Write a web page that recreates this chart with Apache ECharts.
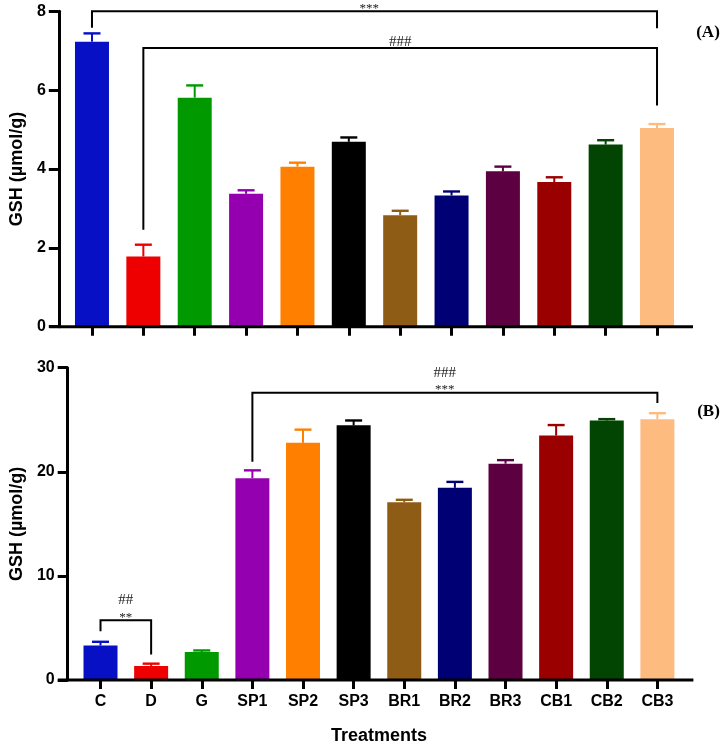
<!DOCTYPE html>
<html>
<head>
<meta charset="utf-8">
<script src="https://cdn.jsdelivr.net/npm/echarts@6/dist/echarts.min.js"></script>
<style>
html,body{margin:0;padding:0;background:#fff;}
#chart{width:724px;height:746px;}
</style>
</head>
<body>
<div id="chart"></div>
<script>
const categories = ['C','D','G','SP1','SP2','SP3','BR1','BR2','BR3','CB1','CB2','CB3'];
const barColors = ['#0710c4','#ee0000','#009a00','#9400b0','#ff8000','#000000','#8e5c14','#000075','#5c0042','#9a0000','#024402','#fdbb7f'];

// Panel A: GSH (µmol/g), mean and SEM
const gshA = [7.23, 1.78, 5.81, 3.37, 4.06, 4.69, 2.83, 3.33, 3.94, 3.67, 4.62, 5.04];
const semA = [0.21, 0.30, 0.31, 0.09, 0.10, 0.11, 0.11, 0.10, 0.12, 0.12, 0.11, 0.10];
const yTicksA = [0, 2, 4, 6, 8];

// Panel B: GSH (µmol/g), mean and SEM
const gshB = [3.31, 1.35, 2.68, 19.38, 22.78, 24.46, 17.07, 18.46, 20.78, 23.48, 24.93, 25.06];
const semB = [0.36, 0.22, 0.16, 0.76, 1.27, 0.47, 0.24, 0.57, 0.34, 1.01, 0.13, 0.57];
const yTicksB = [0, 10, 20, 30];

// Significance brackets: [fromIndex, toIndex, level, leftDropEnd, rightDropEnd, labelPosition]
const bracketsA = [[0, 11, 8.0, 7.58, 7.57, 5.4], [1, 11, 7.07, 2.46, 5.61, 6.0]];
const bracketTextA = [['***'], ['###']];
const bracketsB = [[0, 1, 5.73, 4.69, 2.46, 0.5], [3, 11, 27.6, 20.97, 26.6, 6.8]];
const bracketTextB = [['##', '**'], ['###', '***']];

const SANS = '"Liberation Sans", Arial, sans-serif';
const SERIF = '"Liberation Serif", "Times New Roman", serif';

function errRender(params, api) {
  const i = api.value(0), lo = api.value(1), hi = api.value(2);
  const pLo = api.coord([i, lo]), pHi = api.coord([i, hi]);
  const c = barColors[i];
  return {
    type: 'group',
    children: [
      {type: 'line', shape: {x1: pLo[0], y1: pLo[1], x2: pHi[0], y2: pHi[1]}, style: {stroke: c, lineWidth: 2}},
      {type: 'line', shape: {x1: pHi[0] - 8.5, y1: pHi[1], x2: pHi[0] + 8.5, y2: pHi[1]}, style: {stroke: c, lineWidth: 2.4}}
    ]
  };
}

function makeBracketRender(texts) {
  return function (params, api) {
    const i0 = api.value(0), i1 = api.value(1), lv = api.value(2), le = api.value(3), re = api.value(4), lx = api.value(5);
    const pL = api.coord([i0, lv]), pR = api.coord([i1, lv]);
    const pLe = api.coord([i0, le]), pRe = api.coord([i1, re]);
    const tx = pL[0] + (pR[0] - pL[0]) * (lx - i0) / (i1 - i0);
    const children = [{
      type: 'polyline',
      shape: {points: [[pL[0], pLe[1]], [pL[0], pL[1]], [pR[0], pR[1]], [pR[0], pRe[1]]]},
      style: {stroke: '#000', lineWidth: 2, fill: null}
    }];
    const lines = texts[params.dataIndex];
    const n = lines.length;
    lines.forEach(function (t, k) {
      const isStar = t.indexOf('*') >= 0;
      const center = pL[1] - 6 - 14 * (n - 1 - k);
      children.push({
        type: 'text',
        style: {
          text: t, x: tx, y: center + (isStar ? 3 : 0),
          align: 'center', verticalAlign: 'middle',
          font: (isStar ? '13px ' : '15px ') + SERIF, fill: '#222'
        }
      });
    });
    return {type: 'group', children: children};
  };
}

function barData(vals) {
  return vals.map(function (v, i) { return {value: v, itemStyle: {color: barColors[i]}}; });
}
function errData(vals, sem) {
  return vals.map(function (v, i) { return [i, v, +(v + sem[i]).toFixed(3)]; });
}

const yAxisCommon = {
  type: 'value',
  min: 0,
  offset: 7.5,
  nameLocation: 'middle',
  name: 'GSH (µmol/g)',
  nameGap: 23,
  nameTextStyle: {fontFamily: SANS, fontWeight: 'bold', fontSize: 18, color: '#000'},
  axisLine: {show: true, lineStyle: {color: '#000', width: 3}},
  axisTick: {show: true, length: 10, lineStyle: {color: '#000', width: 3}},
  axisLabel: {fontFamily: SANS, fontWeight: 'bold', fontSize: 16, color: '#000', margin: 13},
  splitLine: {show: false}
};

const option = {
  backgroundColor: '#fff',
  animation: false,
  grid: [
    {left: 63.5, right: 41.3, top: 11.3, height: 315.4},
    {left: 63.5, right: 41.3, top: 367.7, height: 314.8}
  ],
  xAxis: [
    {
      type: 'category', gridIndex: 0, data: categories,
      axisLine: {show: false},
      axisTick: {show: true, alignWithLabel: true, length: 9, lineStyle: {color: '#000', width: 3}},
      axisLabel: {show: false}
    },
    {
      type: 'category', gridIndex: 1, data: categories,
      name: 'Treatments', nameLocation: 'middle', nameGap: 47,
      nameTextStyle: {fontFamily: SANS, fontWeight: 'bold', fontSize: 18, color: '#000'},
      axisLine: {show: false},
      axisTick: {show: true, alignWithLabel: true, length: 9, lineStyle: {color: '#000', width: 3}},
      axisLabel: {interval: 0, fontFamily: SANS, fontWeight: 'bold', fontSize: 16, color: '#000', margin: 14}
    }
  ],
  yAxis: [
    Object.assign({}, yAxisCommon, {gridIndex: 0, max: yTicksA[yTicksA.length - 1], interval: yTicksA[1] - yTicksA[0]}),
    Object.assign({}, yAxisCommon, {gridIndex: 1, max: yTicksB[yTicksB.length - 1], interval: yTicksB[1] - yTicksB[0]})
  ],
  series: [
    {type: 'bar', xAxisIndex: 0, yAxisIndex: 0, barWidth: 34, data: barData(gshA), z: 2},
    {type: 'custom', xAxisIndex: 0, yAxisIndex: 0, renderItem: errRender, data: errData(gshA, semA), encode: {x: 0, y: [1, 2]}, z: 3},
    {type: 'custom', xAxisIndex: 0, yAxisIndex: 0, renderItem: makeBracketRender(bracketTextA), data: bracketsA, encode: {x: [0, 1], y: [2, 3, 4]}, z: 4, clip: false},
    {type: 'bar', xAxisIndex: 1, yAxisIndex: 1, barWidth: 34, data: barData(gshB), z: 2},
    {type: 'custom', xAxisIndex: 1, yAxisIndex: 1, renderItem: errRender, data: errData(gshB, semB), encode: {x: 0, y: [1, 2]}, z: 3},
    {type: 'custom', xAxisIndex: 1, yAxisIndex: 1, renderItem: makeBracketRender(bracketTextB), data: bracketsB, encode: {x: [0, 1], y: [2, 3, 4]}, z: 4, clip: false}
  ]
};

const chart = echarts.init(document.getElementById('chart'), null, {renderer: 'canvas'});
chart.setOption(option);

// Baseline axis lines extended past the plot edges (GraphPad style), plus panel tags
function axisBaseline(gi) {
  const y = chart.convertToPixel({yAxisIndex: gi}, 0);
  const xFirst = chart.convertToPixel({xAxisIndex: gi}, 0);
  const xLast = chart.convertToPixel({xAxisIndex: gi}, categories.length - 1);
  return {type: 'line', shape: {x1: xFirst - 42.6, y1: y, x2: xLast + 36, y2: y}, style: {stroke: '#000', lineWidth: 3}, z: 10};
}
chart.setOption({
  graphic: [
    axisBaseline(0),
    axisBaseline(1),
    {type: 'text', x: 708, y: 33, style: {text: '(A)', font: 'bold 17px ' + SERIF, fill: '#000', align: 'center', verticalAlign: 'middle'}},
    {type: 'text', x: 708.5, y: 411.7, style: {text: '(B)', font: 'bold 17px ' + SERIF, fill: '#000', align: 'center', verticalAlign: 'middle'}}
  ]
});
</script>
</body>
</html>
